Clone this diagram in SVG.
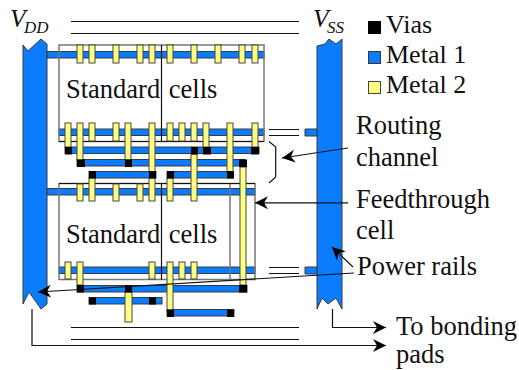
<svg xmlns="http://www.w3.org/2000/svg" width="519" height="370" viewBox="0 0 519 370">
<style>
text{font-family:"Liberation Serif","Times New Roman",serif;font-size:26.5px;fill:#111}
.i{font-style:italic;font-size:25.6px}
.s{font-size:17px}
.l{font-size:26px}
.m{fill:#0a7dff;stroke:#3a3a3a;stroke-width:1}
.y{fill:#ffff80;stroke:#444;stroke-width:1}
.v{fill:#000}
.box{fill:none;stroke:#777;stroke-width:1.5}
.k{fill:none;stroke:#111;stroke-width:1.2}
.a{fill:none;stroke:#111;stroke-width:1.2;marker-end:url(#ah)}
</style>
<defs>
<marker id="ah" markerUnits="userSpaceOnUse" markerWidth="14" markerHeight="14" refX="13" refY="7" orient="auto"><path d="M0,0.5 L13,7 L0,13.5 L4,7z" fill="#000"/></marker>
</defs>
<g id="rails">
<path class="m" d="M23,45 L28,51 L41,39 L47,44 V304 L41,309 L29,292 L23,304Z"/>
<path class="m" d="M317,46 L325,44 L329,39 L336,44 L342,39 V309 L336,298 L328,304 L322,298 L317,309Z"/>
<path class="m" d="M305,129 H317 V136 H305Z"/>
<path class="m" d="M305,267 H317 V274 H305Z"/>
</g>
<g id="bus-lines">
<path class="k" d="M71,21.500H299M71,33.500H299M71,327.500H299M71,339.500H299M269,129.500H299M269,135.500H299M269,267.500H299M269,273.500H299"/>
</g>
<g id="cell-top">
<rect class="m" x="47" y="51.500" width="217" height="6.500"/>
<rect class="m" x="59" y="129" width="205" height="6.500"/>
<rect class="box" x="59" y="45" width="205" height="96.500"/>
<path class="k" d="M59,141.500H264M161.500,45V141.500"/>
<g id="pins-top">
<rect class="y" x="77" y="45" width="6" height="18"/><rect class="y" x="89" y="45" width="6" height="18"/><rect class="y" x="113" y="45" width="6" height="18"/><rect class="y" x="137" y="45" width="6" height="18"/><rect class="y" x="149" y="45" width="6" height="18"/><rect class="y" x="167" y="45" width="6" height="18"/><rect class="y" x="191" y="45" width="6" height="18"/><rect class="y" x="215" y="45" width="6" height="18"/><rect class="y" x="239" y="45" width="6" height="18"/><rect class="y" x="252" y="45" width="6" height="18"/>
</g>
</g>
<g id="channel-1">
<rect class="m" x="65" y="147" width="194" height="6.500"/>
<rect class="m" x="77" y="159.500" width="168" height="6.500"/>
<rect class="m" x="89" y="171.500" width="67" height="6.500"/>
<rect class="m" x="167" y="171.500" width="66" height="6.500"/>
</g>
<g id="cell-bottom">
<rect class="m" x="47" y="188.500" width="208" height="6.500"/>
<rect class="m" x="59" y="267" width="196" height="6.500"/>
<rect class="box" x="59" y="183.500" width="196" height="96"/>
<path class="box" d="M230,183.500V279"/>
<path class="k" d="M59,183.500H255M161.500,183.500V279.500"/>
</g>
<g id="channel-2">
<rect class="m" x="77" y="285.500" width="170" height="6.500"/>
<rect class="m" x="89" y="297.500" width="73" height="6.500"/>
<rect class="m" x="167" y="309.500" width="67" height="6.500"/>
</g>
<g id="pins">
<rect class="y" x="65" y="123" width="6" height="24"/><rect class="y" x="77" y="123" width="6" height="37"/><rect class="y" x="89" y="123" width="6" height="18"/><rect class="y" x="113" y="123" width="6" height="18"/><rect class="y" x="125" y="123" width="6" height="37"/><rect class="y" x="149" y="123" width="6" height="49"/><rect class="y" x="167" y="123" width="6" height="18"/><rect class="y" x="179" y="123" width="6" height="18"/><rect class="y" x="191" y="123" width="6" height="18"/><rect class="y" x="203" y="123" width="6" height="24"/><rect class="y" x="227" y="123" width="6" height="49"/><rect class="y" x="252" y="123" width="6" height="24"/>
<rect class="y" x="191" y="154" width="6" height="47"/>
<rect class="y" x="77" y="184" width="6" height="17"/><rect class="y" x="89" y="178" width="6" height="23"/><rect class="y" x="113" y="184" width="6" height="17"/><rect class="y" x="137" y="184" width="6" height="17"/><rect class="y" x="149" y="178" width="6" height="23"/><rect class="y" x="167" y="178" width="6" height="23"/>
<rect class="y" x="240" y="167" width="6" height="118"/>
<rect class="y" x="65" y="262" width="6" height="17"/><rect class="y" x="77" y="262" width="6" height="23"/><rect class="y" x="149" y="262" width="6" height="17"/><rect class="y" x="167" y="262" width="6" height="48"/><rect class="y" x="179" y="262" width="6" height="17"/><rect class="y" x="191" y="262" width="6" height="17"/>
<rect class="y" x="125" y="292" width="7" height="30"/>
</g>
<g id="vias">
<rect class="v" x="65" y="147" width="7" height="7.500"/><rect class="v" x="191" y="147" width="7" height="7.500"/><rect class="v" x="203" y="147" width="8" height="7.500"/><rect class="v" x="251" y="147" width="8" height="7.500"/>
<rect class="v" x="77" y="159.500" width="8" height="7.500"/><rect class="v" x="125" y="159.500" width="7" height="7.500"/><rect class="v" x="239" y="159.500" width="8" height="7.500"/>
<rect class="v" x="89" y="171" width="7" height="7.500"/><rect class="v" x="149" y="171" width="7" height="7.500"/><rect class="v" x="167" y="171" width="7" height="7.500"/><rect class="v" x="227" y="171" width="7" height="7.500"/>
<rect class="v" x="77" y="285" width="7" height="7.500"/><rect class="v" x="125" y="285" width="7" height="7.500"/><rect class="v" x="239" y="285" width="8" height="7.500"/>
<rect class="v" x="89" y="297.500" width="7" height="7"/><rect class="v" x="149" y="297.500" width="7" height="7"/>
<rect class="v" x="167" y="309.500" width="7" height="7.500"/><rect class="v" x="227" y="309.500" width="7" height="7.500"/>
</g>
<g id="connectors">
<path class="k" d="M269,141.500L275.700,147V177L269,183"/>
<path class="a" d="M348,148L282,158"/>
<path class="a" d="M348,202.800H255"/>
<path class="a" d="M353,267L332,247"/>
<path class="a" d="M354,273L38,292"/>
<path class="a" d="M32,309V345.500H386"/>
<path class="a" d="M332.500,309V327.500H386"/>
</g>
<g id="labels">
<text x="66" y="98" word-spacing="2">Standard cells</text>
<text x="66" y="243" word-spacing="2">Standard cells</text>
<text class="i" x="10" y="27">V</text><text class="i s" x="24" y="33">DD</text>
<text class="i" x="313" y="27">V</text><text class="i s" x="327" y="33">SS</text>
<text x="356" y="134">Routing</text>
<text x="356" y="166">channel</text>
<text x="356" y="208">Feedthrough</text>
<text x="356" y="239">cell</text>
<text x="357" y="275">Power rails</text>
<text x="396" y="335">To bonding</text>
<text x="396" y="363">pads</text>
</g>
<g id="legend">
<rect x="368" y="21" width="13" height="13" fill="#000"/><text class="l" x="386" y="33">Vias</text>
<rect class="m" x="368.500" y="51.500" width="12" height="12"/><text class="l" x="386" y="63">Metal 1</text>
<rect class="y" x="368.500" y="81.500" width="12" height="12"/><text class="l" x="386" y="93">Metal 2</text>
</g>
</svg>
